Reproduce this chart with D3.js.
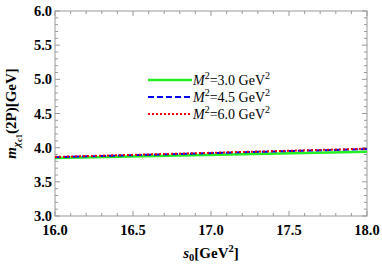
<!DOCTYPE html>
<html>
<head>
<meta charset="utf-8">
<script src="https://cdn.jsdelivr.net/npm/d3@7"></script>
<style>
  body { margin: 0; background: #fff; }
  svg { display: block; font-family: "Liberation Serif", "DejaVu Serif", serif; }
</style>
</head>
<body>
<div class="Canvas"></div>
<script>
const s0 = [16.0, 18.0];
const m2Labels = ['3.0', '4.5', '6.0'];
const massM3 = [3.85, 3.94];
const massM45 = [3.86, 3.98];
const massM6 = [3.865, 3.985];
const xTicks = [16.0, 16.5, 17.0, 17.5, 18.0];
const yTicks = [3.0, 3.5, 4.0, 4.5, 5.0, 5.5, 6.0];

const width = 382;
const height = 273;
const margin = { left: 55, right: 15, top: 11, bottom: 57 };
const frameColor = '#999';

const svg = d3.select('.Canvas').append('svg').attr('width', width).attr('height', height);

const x = d3.scaleLinear().domain([16, 18]).range([margin.left, width - margin.right]);
const y = d3.scaleLinear().domain([3, 6]).range([height - margin.bottom, margin.top]);

const x0 = x.range()[0], x1 = x.range()[1];
const y0 = y.range()[0], y1 = y.range()[1];

// frame
svg.append('rect')
  .attr('x', x0).attr('y', y1)
  .attr('width', x1 - x0).attr('height', y0 - y1)
  .attr('fill', 'none').attr('stroke', frameColor).attr('stroke-width', 1);

// ticks, inward on all four sides
const xMinor = d3.range(16, 18.001, 0.1);
const yMinor = d3.range(3, 6.001, 0.1);
const isMajor = (v) => Math.abs(v * 2 - Math.round(v * 2)) < 1e-6;
const ticks = svg.append('g').attr('stroke', frameColor).attr('stroke-width', 1);
xMinor.forEach((v) => {
  const len = isMajor(v) ? 5 : 3;
  ticks.append('line').attr('x1', x(v)).attr('x2', x(v)).attr('y1', y0).attr('y2', y0 - len);
  ticks.append('line').attr('x1', x(v)).attr('x2', x(v)).attr('y1', y1).attr('y2', y1 + len);
});
yMinor.forEach((v) => {
  const len = isMajor(v) ? 5 : 3;
  ticks.append('line').attr('y1', y(v)).attr('y2', y(v)).attr('x1', x0).attr('x2', x0 + len);
  ticks.append('line').attr('y1', y(v)).attr('y2', y(v)).attr('x1', x1).attr('x2', x1 - len);
});

// tick labels
svg.append('g').selectAll('text').data(xTicks).enter().append('text')
  .attr('x', (d) => x(d)).attr('y', y0 + 19)
  .attr('text-anchor', 'middle')
  .attr('font-size', '14.5px').attr('font-weight', 'bold')
  .text((d) => d.toFixed(1));
svg.append('g').selectAll('text').data(yTicks).enter().append('text')
  .attr('x', x0 - 3).attr('y', (d) => y(d) + 5)
  .attr('text-anchor', 'end')
  .attr('font-size', '14.5px').attr('font-weight', 'bold')
  .text((d) => d.toFixed(1));

// axis titles
const xt = svg.append('text')
  .attr('x', (x0 + x1) / 2).attr('y', y0 + 42)
  .attr('text-anchor', 'middle')
  .attr('font-size', '15px').attr('font-weight', 'bold');
xt.append('tspan').attr('font-style', 'italic').text('s');
xt.append('tspan').attr('font-size', '10.5px').attr('dy', 3).text('0');
xt.append('tspan').attr('dy', -3).text('[GeV');
xt.append('tspan').attr('font-size', '10.5px').attr('dy', -6).text('2');
xt.append('tspan').attr('dy', 6).text(']');

const yt = svg.append('text')
  .attr('transform', `translate(16, ${(y0 + y1) / 2}) rotate(-90)`)
  .attr('text-anchor', 'middle')
  .attr('font-size', '15px').attr('font-weight', 'bold');
yt.append('tspan').attr('font-style', 'italic').text('m');
yt.append('tspan').attr('font-size', '11px').attr('font-style', 'italic').attr('dy', 4).text('χ');
yt.append('tspan').attr('font-size', '8.5px').attr('dy', 2).text('c1');
yt.append('tspan').attr('dy', -6).text('(2P)[GeV]');

// series
const series = [
  { values: massM3, color: '#22f022', dash: null, width: 2.5 },
  { values: massM45, color: '#0000ee', dash: '6,3', width: 2 },
  { values: massM6, color: '#ee0000', dash: '2,2', width: 2 },
];
const line = d3.line().x((d) => x(d[0])).y((d) => y(d[1]));
series.forEach((s) => {
  svg.append('path')
    .datum(s0.map((v, i) => [v, s.values[i]]))
    .attr('d', line)
    .attr('fill', 'none')
    .attr('stroke', s.color)
    .attr('stroke-width', s.width)
    .attr('stroke-dasharray', s.dash);
});

// legend
const legendX = 148;
const legendY = [80, 97, 114];
series.forEach((s, i) => {
  const ly = legendY[i];
  svg.append('line')
    .attr('x1', legendX).attr('x2', legendX + 44)
    .attr('y1', ly).attr('y2', ly)
    .attr('stroke', s.color).attr('stroke-width', s.width)
    .attr('stroke-dasharray', s.dash);
  const t = svg.append('text')
    .attr('x', legendX + 45).attr('y', ly + 5)
    .attr('font-size', '14px');
  t.append('tspan').attr('font-style', 'italic').text('M');
  t.append('tspan').attr('font-size', '10px').attr('dy', -6).text('2');
  t.append('tspan').attr('dy', 6).text(`=${m2Labels[i]} GeV`);
  t.append('tspan').attr('font-size', '10px').attr('dy', -6).text('2');
});
</script>
</body>
</html>
